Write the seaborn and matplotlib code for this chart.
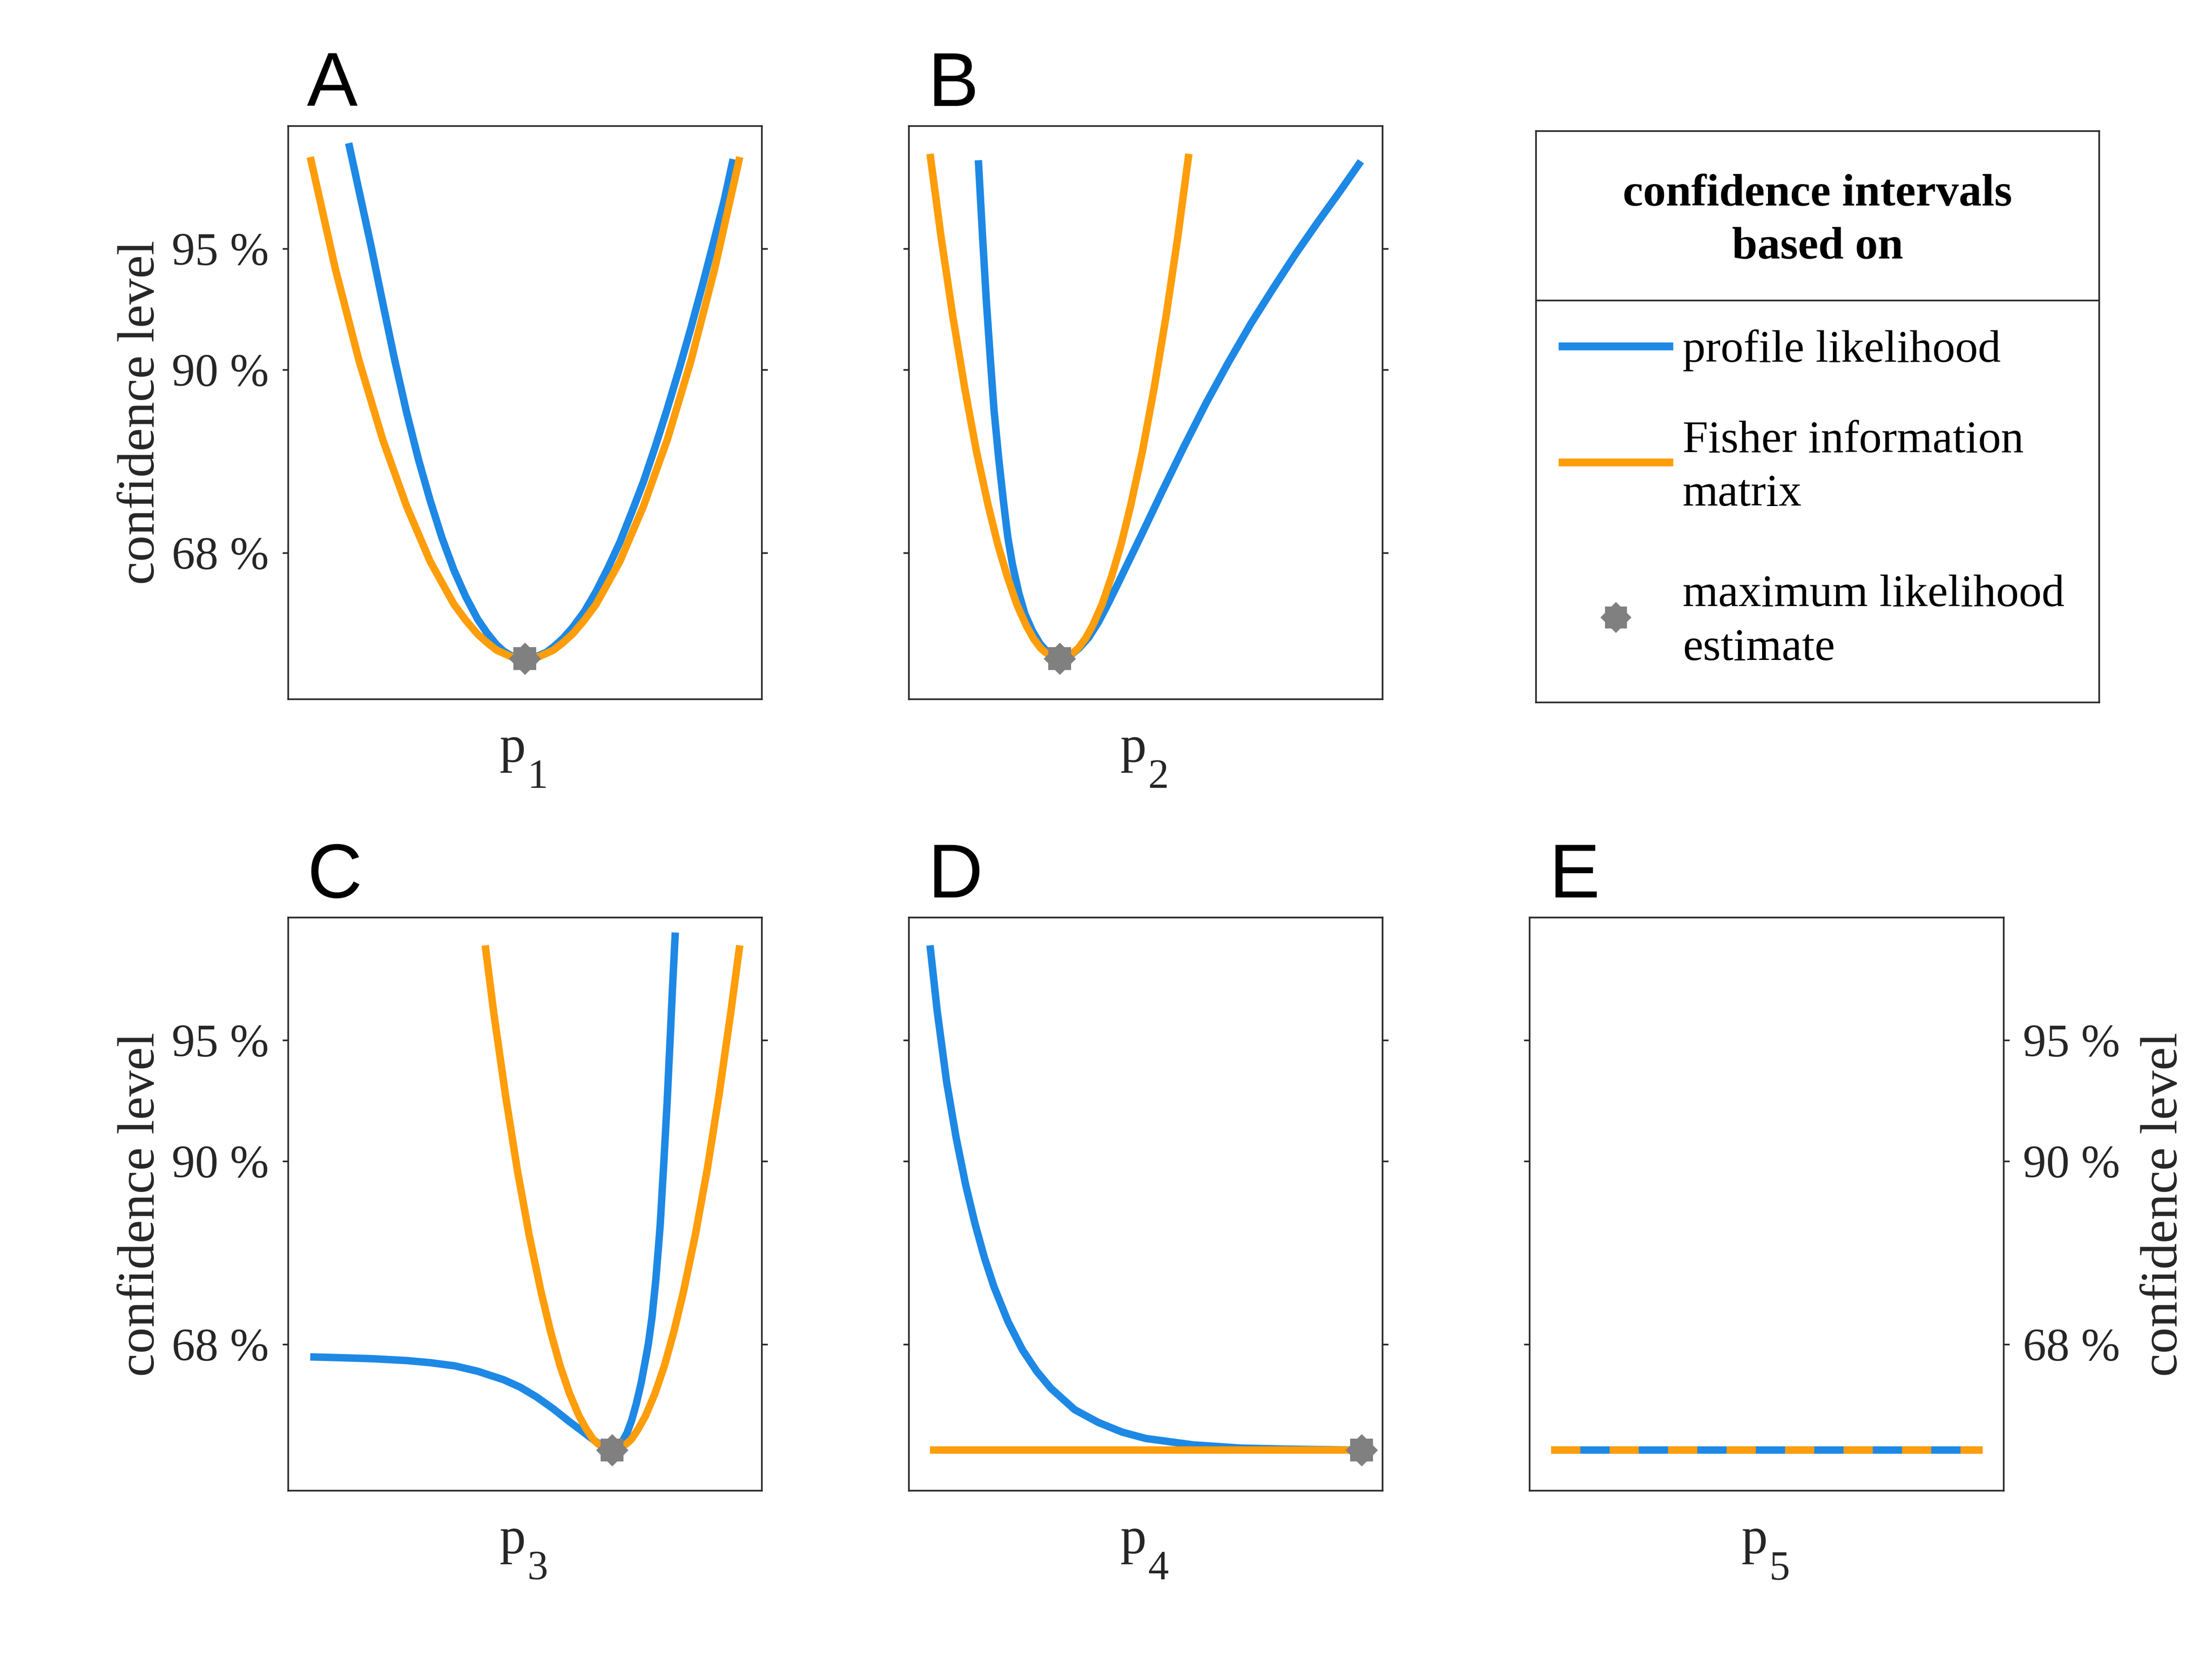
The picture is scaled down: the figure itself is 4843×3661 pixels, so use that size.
import matplotlib
matplotlib.use("Agg")
import matplotlib.pyplot as plt
import seaborn as sns

# ---------------------------------------------------------------
# values
# x: position across each panel (0..100, no scale shown)
# y: likelihood-ratio value, ticks sit at the chi2(1) quantiles
# ---------------------------------------------------------------
panel_letters = ["A", "B", "C", "D", "E"]
param_symbol = "p"
param_index = ["1", "2", "3", "4", "5"]
conf_ticks = [0.989, 2.706, 3.841]
conf_tick_labels = ["68 %", "90 %", "95 %"]

# panel A
a_profile_x = [12.8, 15, 17.5, 20, 22.5, 25, 27.5, 30, 32.5, 35, 37.5, 40, 42, 44, 45.5, 47, 48.5, 50,
               51.5, 53, 54.5, 56, 58, 60, 62.5, 65, 67.5, 70, 72.5, 75, 77.5, 80, 82.5, 85, 87.5, 90, 92, 93.9]
a_profile_y = [4.83, 4.38, 3.87, 3.33, 2.80, 2.31, 1.87, 1.48, 1.13, 0.83, 0.58, 0.37, 0.24, 0.13, 0.07, 0.03, 0.01, 0.00,
               0.01, 0.03, 0.06, 0.11, 0.19, 0.29, 0.44, 0.63, 0.85, 1.09, 1.37, 1.66, 1.99, 2.34, 2.71, 3.10, 3.51, 3.94, 4.29, 4.68]
a_fisher_x = [4.7, 10, 15, 20, 25, 30, 35, 37.5, 40, 42, 44, 45.5, 47, 48.5, 50,
              51.5, 53, 54.5, 56, 58, 60, 62.5, 65, 70, 75, 80, 85, 90, 95.3]
a_fisher_y = [4.70, 3.65, 2.79, 2.05, 1.43, 0.91, 0.51, 0.36, 0.23, 0.15, 0.08, 0.05, 0.02, 0.01, 0.00,
              0.01, 0.02, 0.05, 0.08, 0.15, 0.23, 0.36, 0.51, 0.91, 1.43, 2.05, 2.79, 3.65, 4.70]

# panel B
b_profile_x = [14.7, 15.6, 16.4, 17.2, 18.0, 19.0, 20.0, 20.9, 21.9, 23.2, 24.5, 26.1, 27.7, 29.3, 30.6, 31.8,
               33, 34.5, 36, 38, 40, 42, 44, 46.5, 49, 53.5, 58, 62.8, 67.5, 72.2, 76.9, 81.6, 86.3, 91, 95.4]
b_profile_y = [4.67, 3.94, 3.34, 2.82, 2.33, 1.87, 1.47, 1.14, 0.88, 0.62, 0.42, 0.26, 0.14, 0.06, 0.02, 0.00,
               0.01, 0.045, 0.10, 0.20, 0.34, 0.51, 0.69, 0.92, 1.15, 1.57, 1.98, 2.40, 2.78, 3.14, 3.47, 3.79, 4.09, 4.38, 4.66]
b_fisher_x = [4.5, 6.8, 9.3, 11.8, 14.3, 16.8, 18.8, 20.8, 22.8, 24.8, 26.3, 27.8, 28.8, 29.8, 30.8, 31.3, 31.8,
              32.3, 32.8, 33.8, 34.8, 35.8, 37.3, 38.8, 40.8, 42.8, 44.8, 46.8, 49.3, 51.8, 54.3, 56.8, 59.1]
b_fisher_y = [4.73, 3.96, 3.21, 2.54, 1.94, 1.43, 1.07, 0.77, 0.51, 0.31, 0.19, 0.10, 0.06, 0.03, 0.01, 0.00, 0.00,
              0.00, 0.01, 0.03, 0.06, 0.10, 0.19, 0.31, 0.51, 0.77, 1.07, 1.43, 1.94, 2.54, 3.21, 3.96, 4.73]

# panel C
c_profile_x = [4.7, 10, 17.9, 25, 30, 35.2, 40, 45.5, 49, 52.4, 55.9, 59.3, 62, 64.8, 66.5, 68.4,
               69.5, 70.5, 71.5, 72.5, 73.5, 74.5, 75.3, 76.0, 76.8, 77.6, 78.5, 79.3, 80.0, 80.6, 81.1, 81.7]
c_profile_y = [0.874, 0.868, 0.857, 0.84, 0.82, 0.79, 0.74, 0.66, 0.59, 0.50, 0.39, 0.27, 0.18, 0.085, 0.035, 0.00,
               0.03, 0.08, 0.16, 0.28, 0.44, 0.63, 0.82, 0.99, 1.25, 1.60, 2.10, 2.71, 3.28, 3.84, 4.32, 4.85]
c_fisher_x = [41.6, 43.4, 45.9, 48.4, 50.9, 53.4, 55.4, 57.4, 59.4, 61.4, 62.9, 64.4, 65.4, 66.4, 67.4, 67.9, 68.4,
              68.9, 69.4, 70.4, 71.4, 72.4, 73.9, 75.4, 77.4, 79.4, 81.4, 83.4, 85.9, 88.4, 90.9, 93.4, 95.3]
c_fisher_y = [4.73, 4.10, 3.32, 2.62, 2.01, 1.48, 1.11, 0.79, 0.53, 0.32, 0.20, 0.10, 0.06, 0.03, 0.01, 0.00, 0.00,
              0.00, 0.01, 0.03, 0.06, 0.10, 0.20, 0.32, 0.53, 0.79, 1.11, 1.48, 2.01, 2.62, 3.32, 4.10, 4.73]

# panel D
d_profile_x = [4.5, 6, 8, 10, 12, 14, 16, 18, 21, 24, 27, 30, 35, 40, 45, 50, 60, 70, 80, 95.5]
d_profile_y = [4.73, 4.12, 3.45, 2.93, 2.49, 2.12, 1.80, 1.53, 1.20, 0.94, 0.74, 0.58, 0.38, 0.26, 0.17, 0.11,
               0.05, 0.02, 0.01, 0.00]
d_fisher_x = [4.5, 95.5]
d_fisher_y = [0.0, 0.0]

# panel E (both curves identical and flat)
e_profile_x = [4.5, 95.5]
e_profile_y = [0.0, 0.0]
e_fisher_x = [4.5, 95.5]
e_fisher_y = [0.0, 0.0]

# maximum likelihood estimates (panels A-D)
mle_x = [50, 31.8, 68.4, 95.5]
mle_y = [0.0, 0.0, 0.0, 0.0]

BLUE = "#1E88E5"
ORANGE = "#FF9D0A"
GREY = "#808080"
DARK = "#262626"
LW = 3.9

sns.set_theme(style="white")
plt.rcParams["font.family"] = ["Liberation Serif", "DejaVu Serif"]

fig = plt.figure(figsize=(4843 / 300, 3661 / 300), dpi=300)

col_left = [0.1302, 0.4108, 0.6916]
row_bottom = [0.5818, 0.1084]
ax_w, ax_h = 0.2143, 0.3428

panels = [
    # (row, col, profile x/y, fisher x/y, mle index, tick label side)
    (0, 0, a_profile_x, a_profile_y, a_fisher_x, a_fisher_y, 0, "left"),
    (0, 1, b_profile_x, b_profile_y, b_fisher_x, b_fisher_y, 1, None),
    (1, 0, c_profile_x, c_profile_y, c_fisher_x, c_fisher_y, 2, "left"),
    (1, 1, d_profile_x, d_profile_y, d_fisher_x, d_fisher_y, 3, None),
    (1, 2, e_profile_x, e_profile_y, e_fisher_x, e_fisher_y, None, "right"),
]

for i, (row, col, px, py, fx, fy, mi, side) in enumerate(panels):
    ax = fig.add_axes([col_left[col], row_bottom[row], ax_w, ax_h])

    sns.lineplot(x=px, y=py, ax=ax, color=BLUE, linewidth=LW, sort=False,
                 estimator=None, solid_capstyle="butt", zorder=3)
    if panel_letters[i] == "E":
        # identical curves: orange dashed over the blue one
        sns.lineplot(x=fx, y=fy, ax=ax, color=ORANGE, linewidth=LW, sort=False,
                     estimator=None, linestyle=(0, (3.94, 3.94)), zorder=4)
    else:
        sns.lineplot(x=fx, y=fy, ax=ax, color=ORANGE, linewidth=LW, sort=False,
                     estimator=None, solid_capstyle="butt", zorder=4)

    if mi is not None:
        for mk in ["s", "D"]:
            sns.scatterplot(x=[mle_x[mi]], y=[mle_y[mi]], ax=ax, marker=mk, s=144,
                            color=GREY, linewidth=0, zorder=6)

    ax.set_xlim(0, 100)
    ax.set_ylim(-0.38, 4.99)
    ax.set_xticks([])
    ax.set_yticks(conf_ticks)
    ax.set_yticklabels(conf_tick_labels)
    ax.tick_params(axis="y", direction="out", length=3, width=0.85, color=DARK,
                   left=True, right=True, labelleft=(side == "left"),
                   labelright=(side == "right"), labelsize=24.5,
                   labelcolor=DARK, pad=7)
    for sp in ax.spines.values():
        sp.set_visible(True)
        sp.set_linewidth(0.85)
        sp.set_color(DARK)

    # parameter name with a large, low subscript
    ax.set_xlabel(param_symbol, fontsize=27.5, color=DARK)
    ax.xaxis.set_label_coords(0.4456, -0.109)
    ax.xaxis.label.set_horizontalalignment("left")
    ax.xaxis.label.set_verticalalignment("baseline")
    ax.text(0.505, -0.1545, param_index[i], transform=ax.transAxes,
            fontsize=21.7, color=DARK, ha="left", va="baseline")

    if side == "left":
        ax.set_ylabel("confidence level", fontsize=27.5, color=DARK)
        ax.yaxis.set_label_coords(-0.26, 0.5)
    elif side == "right":
        ax.yaxis.set_label_position("right")
        ax.set_ylabel("confidence level", fontsize=27.5, color=DARK)
        ax.yaxis.set_label_coords(1.288, 0.5)
    else:
        ax.set_ylabel("")

    ax.text(0.04, 1.035, panel_letters[i], transform=ax.transAxes, fontsize=40,
            family=["Liberation Sans", "DejaVu Sans"], ha="left", va="baseline",
            color="black")

# legend box drawn as its own axes
lax = fig.add_axes([0.6944, 0.5800, 0.2546, 0.3416])
lax.set_xlim(0, 1)
lax.set_ylim(0, 1)
lax.set_xticks([])
lax.set_yticks([])
for sp in lax.spines.values():
    sp.set_visible(True)
    sp.set_linewidth(0.85)
    sp.set_color(DARK)
lax.axhline(0.7036, color=DARK, linewidth=0.85)

lax.text(0.5, 0.870, "confidence intervals", ha="center", va="baseline",
         fontsize=24, fontweight="bold", color="black")
lax.text(0.5, 0.777, "based on", ha="center", va="baseline",
         fontsize=24, fontweight="bold", color="black")

lax.plot([0.0397, 0.2437], [0.6234, 0.6234], color=BLUE, linewidth=4.1,
         solid_capstyle="butt")
lax.text(0.2603, 0.5962, "profile likelihood", ha="left", va="baseline",
         fontsize=24, color="black")

lax.plot([0.0397, 0.2437], [0.4202, 0.4202], color=ORANGE, linewidth=4.1,
         solid_capstyle="butt")
lax.text(0.2603, 0.4378, "Fisher information", ha="left", va="baseline",
         fontsize=24, color="black")
lax.text(0.2603, 0.3446, "matrix", ha="left", va="baseline",
         fontsize=24, color="black")

for mk in ["s", "D"]:
    lax.plot([0.1419], [0.1486], marker=mk, markersize=11.5, color=GREY,
             markeredgewidth=0, linestyle="none")
lax.text(0.2603, 0.1687, "maximum likelihood", ha="left", va="baseline",
         fontsize=24, color="black")
lax.text(0.2603, 0.0740, "estimate", ha="left", va="baseline",
         fontsize=24, color="black")

fig.savefig("out.png", dpi=300)
